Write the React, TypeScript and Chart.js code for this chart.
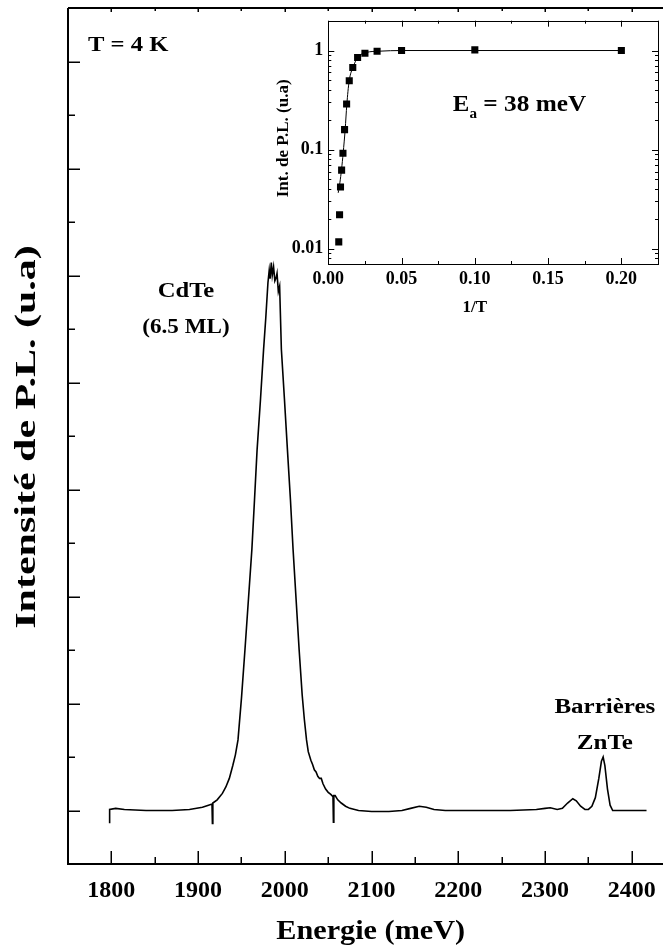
import React, { useEffect, useRef } from 'react';
import { Chart, registerables } from 'chart.js';
Chart.register(...registerables);

const FONT = "'Liberation Serif', 'Times New Roman', serif";

// ---- Main PL spectrum (T = 4 K) ----
const energy = [1798, 1798, 1805, 1815, 1840, 1870, 1890, 1905, 1912, 1916, 1916.5, 1917, 1922, 1928, 1932, 1936, 1940, 1943, 1946, 1950, 1954, 1958, 1962, 1965, 1968, 1972, 1975.5, 1978, 1980.5, 1982, 1983, 1984.4, 1985.5, 1987, 1988.5, 1990, 1991, 1992.5, 1994, 1996, 1999.5, 2003, 2006.5, 2009.5, 2013, 2016.5, 2020, 2022.5, 2025, 2027, 2030, 2032, 2034, 2036, 2038, 2040, 2042, 2044, 2047, 2050, 2053, 2055.5, 2056, 2056.5, 2058, 2061, 2065, 2070, 2075, 2085, 2100, 2120, 2135, 2145, 2155, 2163, 2172, 2185, 2220, 2260, 2290, 2300, 2306, 2314, 2320, 2326, 2332, 2336, 2341, 2346, 2350, 2354, 2358, 2362, 2365, 2367, 2369, 2372, 2375, 2378, 2417];
const intensity = [-0.12, 0.01, 0.02, 0.01, 0.0, 0.0, 0.01, 0.03, 0.05, 0.06, -0.12, 0.07, 0.1, 0.16, 0.22, 0.3, 0.42, 0.52, 0.66, 1.05, 1.5, 1.97, 2.44, 2.9, 3.37, 3.85, 4.31, 4.6, 4.93, 5.05, 4.97, 5.12, 5.0, 5.08, 4.95, 4.98, 5.02, 4.85, 4.9, 4.31, 3.85, 3.37, 2.9, 2.44, 1.97, 1.5, 1.08, 0.85, 0.66, 0.55, 0.47, 0.43, 0.38, 0.36, 0.32, 0.3, 0.3, 0.25, 0.2, 0.17, 0.15, 0.13, -0.11, 0.14, 0.14, 0.1, 0.07, 0.04, 0.02, 0.0, -0.01, -0.01, 0.0, 0.02, 0.04, 0.03, 0.01, 0.0, 0.0, 0.0, 0.01, 0.02, 0.025, 0.01, 0.02, 0.07, 0.11, 0.09, 0.04, 0.01, 0.01, 0.04, 0.12, 0.3, 0.46, 0.5, 0.42, 0.2, 0.05, 0.0, 0.0];

const xMajorTicks = [1800, 1900, 2000, 2100, 2200, 2300, 2400];
const xTickLabels = ['1800', '1900', '2000', '2100', '2200', '2300', '2400'];
const xMinorTicks = [1750, 1850, 1950, 2050, 2150, 2250, 2350];
const yMajorTicks = [0, 1, 2, 3, 4, 5, 6, 7];
const yMinorTicks = [0.5, 1.5, 2.5, 3.5, 4.5, 5.5, 6.5];

// ---- Inset: integrated PL intensity vs 1/T ----
const invT = [0.00714, 0.00769, 0.00833, 0.00909, 0.01, 0.0111, 0.0125, 0.0143, 0.0167, 0.02, 0.025, 0.0333, 0.05, 0.1, 0.2];
const plInt = [0.0117, 0.022, 0.042, 0.062, 0.092, 0.159, 0.288, 0.495, 0.675, 0.85, 0.94, 0.985, 1.0, 1.015, 1.0];
const fitX = [0.00676, 0.00789, 0.00902, 0.01015, 0.0115, 0.01263, 0.0142, 0.0169, 0.0203, 0.0259, 0.035, 0.05, 0.1, 0.2];
const fitY = [0.0366, 0.0462, 0.0629, 0.0925, 0.159, 0.284, 0.488, 0.68, 0.857, 0.955, 0.985, 1.0, 1.0, 1.0];
const insetXTicks = [0, 0.05, 0.1, 0.15, 0.2];
const insetXLabels = ['0.00', '0.05', '0.10', '0.15', '0.20'];
const insetXMinor = [0.025, 0.075, 0.125, 0.175, 0.225];
const insetYTicks = [0.01, 0.1, 1];
const insetYLabels = ['0.01', '0.1', '1'];
const insetYMinor = [0.008, 0.009, 0.02, 0.03, 0.04, 0.05, 0.06, 0.07, 0.08, 0.09, 0.2, 0.3, 0.4, 0.5, 0.6, 0.7, 0.8, 0.9, 2];

function drawText(ctx: CanvasRenderingContext2D, text: string, x: number, y: number, size: number, align: CanvasTextAlign, sx = 1) {
  ctx.save();
  ctx.font = `bold ${size}px ${FONT}`;
  ctx.translate(x, y);
  ctx.scale(sx, 1);
  ctx.textAlign = align;
  ctx.textBaseline = 'alphabetic';
  ctx.fillStyle = '#000';
  ctx.fillText(text, 0, 0);
  ctx.restore();
}

function noPad(s: any) {
  s.paddingLeft = 0;
  s.paddingRight = 0;
  s.paddingTop = 0;
  s.paddingBottom = 0;
}

const mainDecor = {
  id: 'mainDecor',
  afterDraw(chart: any) {
    const { ctx, chartArea: a, scales } = chart;
    const x = scales.x, y = scales.y;
    ctx.save();
    ctx.strokeStyle = '#000';
    ctx.lineWidth = 2;
    ctx.beginPath();
    ctx.moveTo(a.left, a.top);
    ctx.lineTo(a.left, a.bottom);
    ctx.lineTo(a.right, a.bottom);
    ctx.moveTo(a.left, a.top);
    ctx.lineTo(a.right, a.top);
    ctx.stroke();
    ctx.lineWidth = 1.5;
    ctx.beginPath();
    xMajorTicks.forEach(v => {
      const p = Math.round(x.getPixelForValue(v)) + 0.25;
      ctx.moveTo(p, a.bottom); ctx.lineTo(p, a.bottom - 13);
      ctx.moveTo(p, a.top); ctx.lineTo(p, a.top + 4);
    });
    xMinorTicks.forEach(v => {
      const p = Math.round(x.getPixelForValue(v)) + 0.25;
      ctx.moveTo(p, a.bottom); ctx.lineTo(p, a.bottom - 7);
      ctx.moveTo(p, a.top); ctx.lineTo(p, a.top + 3);
    });
    yMajorTicks.forEach(v => {
      const p = Math.round(y.getPixelForValue(v)) + 0.25;
      ctx.moveTo(a.left, p); ctx.lineTo(a.left + 12, p);
    });
    yMinorTicks.forEach(v => {
      const p = Math.round(y.getPixelForValue(v)) + 0.25;
      ctx.moveTo(a.left, p); ctx.lineTo(a.left + 7, p);
    });
    ctx.stroke();
    ctx.restore();

    const opts = chart.options.plugins.mainDecor;
    opts.labels.forEach((l: any) => {
      drawText(ctx, l.text, x.getPixelForValue(l.e), y.getPixelForValue(l.i), l.size, l.align, l.sx);
    });
    // axis titles
    drawText(ctx, 'Energie (meV)', x.getPixelForValue(opts.xTitleAt), opts.xTitleBaseline, 28, 'center', 1.08);
    ctx.save();
    ctx.translate(opts.yTitleX, (a.top + a.bottom) / 2 + opts.yTitleShift);
    ctx.rotate(-Math.PI / 2);
    ctx.scale(1.4, 1);
    ctx.font = `bold 30px ${FONT}`;
    ctx.textAlign = 'center';
    ctx.textBaseline = 'alphabetic';
    ctx.fillStyle = '#000';
    ctx.fillText('Intensité de P.L. (u.a)', 0, 0);
    ctx.restore();
  },
};

const insetDecor = {
  id: 'insetDecor',
  afterDraw(chart: any) {
    const { ctx, chartArea: a, scales } = chart;
    const x = scales.x, y = scales.y;
    ctx.save();
    ctx.strokeStyle = '#000';
    ctx.lineWidth = 1;
    ctx.strokeRect(Math.round(a.left) + 0.5, Math.round(a.top) + 0.5, Math.round(a.right - a.left), Math.round(a.bottom - a.top));
    ctx.beginPath();
    const vt = (v: number, len: number) => {
      const p = Math.round(x.getPixelForValue(v)) + 0.5;
      ctx.moveTo(p, a.bottom); ctx.lineTo(p, a.bottom - len);
      ctx.moveTo(p, a.top); ctx.lineTo(p, a.top + len);
    };
    const ht = (v: number, len: number) => {
      const p = Math.round(y.getPixelForValue(v)) + 0.5;
      ctx.moveTo(a.left, p); ctx.lineTo(a.left + len, p);
      ctx.moveTo(a.right, p); ctx.lineTo(a.right - len, p);
    };
    insetXTicks.forEach(v => vt(v, 6));
    insetXMinor.forEach(v => vt(v, 3));
    insetYTicks.forEach(v => ht(v, 6));
    insetYMinor.forEach(v => ht(v, 3));
    ctx.stroke();
    ctx.restore();

    const opts = chart.options.plugins.insetDecor;
    // E_a label
    const ex = x.getPixelForValue(opts.eaAt[0]);
    const ey = y.getPixelForValue(opts.eaAt[1]);
    ctx.save();
    ctx.font = `bold 23px ${FONT}`;
    const wE = ctx.measureText('E').width * 1.08;
    ctx.font = `bold 14px ${FONT}`;
    const wa = ctx.measureText('a').width * 1.08;
    ctx.restore();
    drawText(ctx, 'E', ex, ey, 23, 'left', 1.08);
    drawText(ctx, 'a', ex + wE, ey + 7, 14, 'left', 1.08);
    drawText(ctx, ' = 38 meV', ex + wE + wa, ey, 23, 'left', 1.1);
    // titles
    drawText(ctx, '1/T', x.getPixelForValue(opts.xTitleAt), opts.xTitleBaseline, 17, 'center');
    ctx.save();
    ctx.translate(opts.yTitleX, (a.top + a.bottom) / 2 + opts.yTitleShift);
    ctx.rotate(-Math.PI / 2);
    ctx.font = `bold 17px ${FONT}`;
    ctx.textAlign = 'center';
    ctx.textBaseline = 'alphabetic';
    ctx.fillStyle = '#000';
    ctx.fillText('Int. de P.L. (u.a)', 0, 0);
    ctx.restore();
  },
};

export default function App() {
  const mainRef = useRef<HTMLCanvasElement>(null);
  const insetRef = useRef<HTMLCanvasElement>(null);

  useEffect(() => {
    const tickFont = { family: FONT, size: 24, weight: 'bold' as const };
    const main = new Chart(mainRef.current!, {
      type: 'line',
      data: {
        datasets: [
          {
            data: energy.map((e, i) => ({ x: e, y: intensity[i] })),
            borderColor: '#000',
            borderWidth: 1.6,
            pointRadius: 0,
            tension: 0,
            fill: false,
          },
        ],
      },
      options: {
        animation: false,
        responsive: false,
        devicePixelRatio: 1,
        layout: { padding: { top: 8, left: 0, right: 0, bottom: 0 } },
        plugins: {
          legend: { display: false },
          tooltip: { enabled: false },
          mainDecor: {
            labels: [
              { text: 'T = 4 K', e: 1773, i: 7.1, size: 22, align: 'left', sx: 1.12 },
              { text: 'CdTe', e: 1886, i: 4.8, size: 22, align: 'center', sx: 1.12 },
              { text: '(6.5 ML)', e: 1886, i: 4.46, size: 22, align: 'center', sx: 1.05 },
              { text: 'Barrières', e: 2369, i: 0.91, size: 20, align: 'center', sx: 1.25 },
              { text: 'ZnTe', e: 2369, i: 0.575, size: 20, align: 'center', sx: 1.25 },
            ],
            xTitleAt: 2099,
            xTitleBaseline: 939,
            yTitleX: 35,
            yTitleShift: 1,
          },
        } as any,
        scales: {
          x: {
            type: 'linear',
            min: 1750,
            max: 2436,
            afterBuildTicks: (s: any) => { s.ticks = xMajorTicks.map(v => ({ value: v })); },
            afterFit: (s: any) => { s.height = 81; noPad(s); },
            grid: { display: false, drawTicks: false },
            border: { display: false },
            ticks: {
              padding: 12,
              color: '#000',
              font: tickFont,
              maxRotation: 0,
              autoSkip: false,
              callback: (_v: any, i: number) => xTickLabels[i],
            },
          },
          y: {
            type: 'linear',
            min: -0.5,
            max: 7.5,
            afterFit: (s: any) => { s.width = 68; noPad(s); },
            grid: { display: false, drawTicks: false },
            border: { display: false },
            ticks: { display: false },
          },
        },
      },
      plugins: [mainDecor],
    });

    const insetFont = { family: FONT, size: 18, weight: 'bold' as const };
    const inset = new Chart(insetRef.current!, {
      type: 'line',
      data: {
        datasets: [
          {
            data: invT.map((v, i) => ({ x: v, y: plInt[i] })),
            showLine: false,
            pointStyle: 'rect',
            pointRadius: 5,
            backgroundColor: '#000',
            borderColor: '#000',
            borderWidth: 0,
          },
          {
            data: fitX.map((v, i) => ({ x: v, y: fitY[i] })),
            borderColor: '#000',
            borderWidth: 1,
            pointRadius: 0,
            cubicInterpolationMode: 'monotone',
            fill: false,
          },
        ],
      },
      options: {
        animation: false,
        responsive: false,
        devicePixelRatio: 1,
        layout: { padding: { top: 8.7, right: 2.3, left: 0, bottom: 0 } },
        plugins: {
          legend: { display: false },
          tooltip: { enabled: false },
          insetDecor: {
            eaAt: [0.085, 0.247],
            xTitleAt: 0.1,
            xTitleBaseline: 300,
            yTitleX: 26,
            yTitleShift: -4,
          },
        } as any,
        scales: {
          x: {
            type: 'linear',
            min: 0,
            max: 0.225,
            afterBuildTicks: (s: any) => { s.ticks = insetXTicks.map(v => ({ value: v })); },
            afterFit: (s: any) => { s.height = 58; noPad(s); },
            grid: { display: false, drawTicks: false },
            border: { display: false },
            ticks: {
              padding: 5,
              color: '#000',
              font: insetFont,
              maxRotation: 0,
              autoSkip: false,
              callback: (_v: any, i: number) => insetXLabels[i],
            },
          },
          y: {
            type: 'logarithmic',
            min: 0.007,
            max: 2,
            afterBuildTicks: (s: any) => { s.ticks = insetYTicks.map(v => ({ value: v })); },
            afterFit: (s: any) => { s.width = 66.3; noPad(s); },
            grid: { display: false, drawTicks: false },
            border: { display: false },
            ticks: {
              padding: 5,
              color: '#000',
              font: insetFont,
              autoSkip: false,
              callback: (_v: any, i: number) => insetYLabels[i],
            },
          },
        },
      },
      plugins: [insetDecor],
    });

    return () => {
      main.destroy();
      inset.destroy();
    };
  }, []);

  return (
    <div style={{ position: 'absolute', left: 0, top: 0, width: 663, height: 945, background: '#fff' }}>
      <canvas ref={mainRef} width={663} height={945} style={{ position: 'absolute', left: 0, top: 0, width: 663, height: 945 }} />
      <canvas ref={insetRef} width={401} height={310} style={{ position: 'absolute', left: 262, top: 12, width: 401, height: 310 }} />
    </div>
  );
}
